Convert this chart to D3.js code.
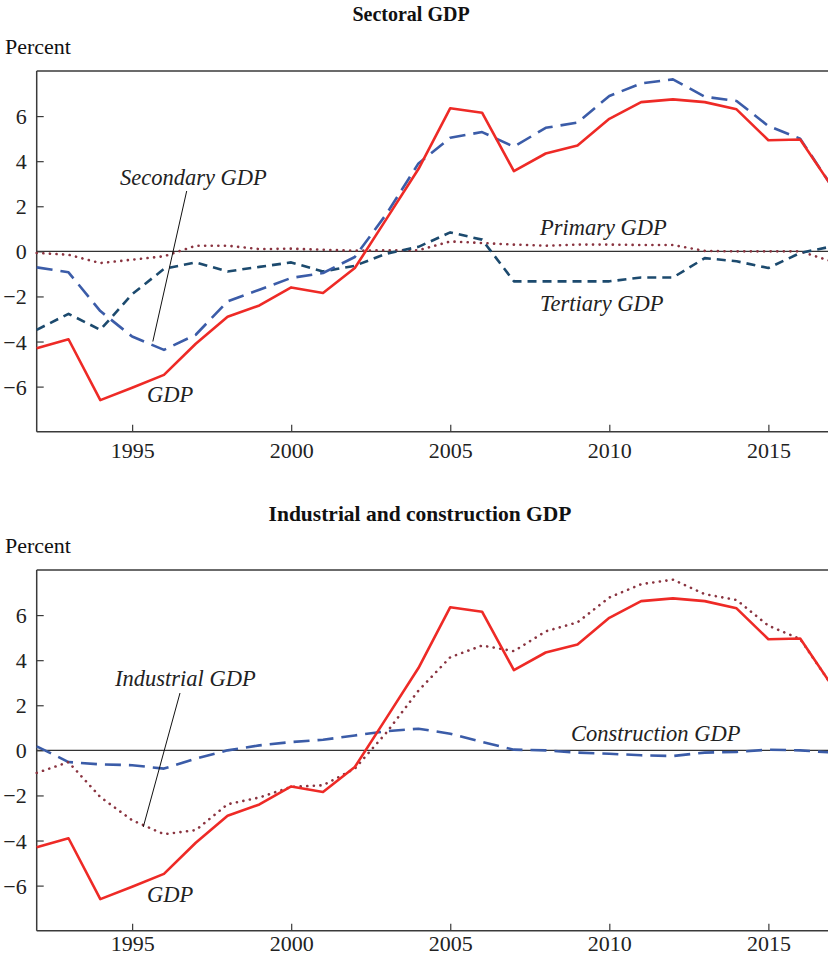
<!DOCTYPE html>
<html><head><meta charset="utf-8">
<script src="https://cdn.jsdelivr.net/npm/d3@7"></script>
<style>
html,body{margin:0;padding:0;background:#fff;}
svg{display:block;font-family:"Liberation Serif","Times New Roman",serif;}
</style></head>
<body>
<svg id="c" width="828" height="962"></svg>
<script>
const years = d3.range(1992, 2018);
const gdp = [-4.3,-3.9,-6.6,-6.05,-5.48,-4.1,-2.9,-2.4,-1.6,-1.85,-0.74,1.45,3.65,6.35,6.15,3.56,4.34,4.7,5.88,6.62,6.74,6.62,6.3,4.93,4.96,2.87];
const secondary = [-0.71,-0.93,-2.65,-3.78,-4.37,-3.7,-2.22,-1.7,-1.18,-0.96,-0.25,1.67,3.9,5.04,5.29,4.64,5.48,5.71,6.89,7.45,7.63,6.86,6.67,5.56,5.0,2.87];
const primary = [-0.07,-0.15,-0.52,-0.37,-0.22,0.25,0.25,0.1,0.12,0.07,0.03,0.05,0.05,0.44,0.37,0.3,0.25,0.3,0.3,0.28,0.28,0.02,0.0,0.0,0.0,-0.45];
const tertiary = [-3.48,-2.77,-3.48,-1.9,-0.78,-0.49,-0.89,-0.69,-0.49,-0.89,-0.64,-0.1,0.2,0.84,0.52,-1.33,-1.33,-1.33,-1.33,-1.16,-1.16,-0.3,-0.44,-0.74,-0.07,0.22];
const industrial = [-1.0,-0.52,-2.07,-3.1,-3.72,-3.54,-2.39,-2.09,-1.62,-1.55,-0.81,0.8,2.65,4.13,4.65,4.4,5.28,5.68,6.78,7.37,7.57,6.93,6.67,5.53,4.94,2.87];
const construction = [0.18,-0.52,-0.62,-0.66,-0.81,-0.37,0.0,0.22,0.37,0.47,0.66,0.85,0.96,0.74,0.37,0.03,0.0,-0.1,-0.15,-0.22,-0.25,-0.1,-0.07,0.03,0.0,-0.1];
const yTicks = [-6,-4,-2,0,2,4,6];
const xTicks = [1995,2000,2005,2010,2015];

const svg = d3.select("#c");
const RED="#ee2a26", BLUE="#3b5ca8", TEAL="#1c4a6e", MAROON="#8a3440", AX="#3a3a3a";

function panel(top, title, titleX, titleY, titleSize, xPad, series, labels){
  const left=36.7, right=832, bottom=top+360.7;
  const x=d3.scaleLinear().domain([1992,2017]).range([left,right]);
  const y=d3.scaleLinear().domain([-8,8]).range([bottom,top]);
  const g=svg.append("g");
  g.append("text").attr("x",titleX).attr("y",titleY).attr("text-anchor","middle")
    .attr("font-weight","bold").attr("font-size",titleSize).attr("fill","#111").text(title);
  g.append("text").attr("x",5).attr("y",top-17).attr("font-size",22).attr("fill","#111").text("Percent");
  g.append("line").attr("x1",left).attr("x2",828).attr("y1",y(0)).attr("y2",y(0)).attr("stroke","#333").attr("stroke-width",1.2);
  g.append("line").attr("x1",left).attr("x2",828).attr("y1",top).attr("y2",top).attr("stroke",AX).attr("stroke-width",1.5);
  const ya=d3.axisLeft(y).tickValues(yTicks).tickSize(-7).tickPadding(10)
    .tickFormat(d=>d<0?"\u2212"+Math.abs(d):d);
  const ga=g.append("g").attr("transform",`translate(${left},0)`).call(ya);
  ga.select(".domain").attr("stroke",AX).attr("stroke-width",1.5).attr("d",`M0,${top}V${bottom}`);
  ga.selectAll(".tick line").attr("stroke",AX).attr("stroke-width",1.2);
  ga.selectAll("text").attr("font-size",22).attr("fill","#222").attr("font-family","Liberation Serif, serif").attr("dy","0.34em");
  const xa=d3.axisBottom(x).tickValues(xTicks).tickSize(-7).tickPadding(xPad).tickFormat(d3.format("d"));
  const gx=g.append("g").attr("transform",`translate(0,${bottom})`).call(xa);
  gx.select(".domain").attr("stroke",AX).attr("stroke-width",1.5).attr("d",`M${left},0H828`);
  gx.selectAll(".tick line").attr("stroke",AX).attr("stroke-width",1.2);
  gx.selectAll("text").attr("font-size",22).attr("fill","#222").attr("font-family","Liberation Serif, serif");
  const line=d3.line().x((d,i)=>x(years[i])).y(d=>y(d));
  series.forEach(s=>{
    g.append("path").attr("d",line(s.data)).attr("fill","none").attr("stroke",s.color)
      .attr("stroke-width",s.w).attr("stroke-dasharray",s.dash||null)
      .attr("stroke-linecap",s.cap||"butt").attr("stroke-linejoin","round");
  });
  labels.forEach(l=>{
    g.append("text").attr("x",l.x).attr("y",top+l.dy).attr("font-style","italic").attr("font-size",22.5).attr("fill","#222").text(l.t);
    if(l.lead){
      g.append("line").attr("x1",l.lead[0]).attr("y1",top+l.lead[1]).attr("x2",x(l.lead[2])).attr("y2",y(l.lead[3]))
        .attr("stroke","#111").attr("stroke-width",1);
    }
  });
}

panel(71,"Sectoral GDP",411,21,20,11,[
  {data:primary,color:MAROON,w:2.6,dash:"0.1,6.5",cap:"round"},
  {data:tertiary,color:TEAL,w:2.6,dash:"9,6"},
  {data:secondary,color:BLUE,w:2.6,dash:"16,8"},
  {data:gdp,color:RED,w:2.6}
],[
  {t:"Secondary GDP",x:120,dy:114,lead:[186.7,120,1995.65,-4.0]},
  {t:"GDP",x:147,dy:331},
  {t:"Primary GDP",x:540,dy:164},
  {t:"Tertiary GDP",x:540,dy:240}
]);

panel(570,"Industrial and construction GDP",420,521,21.5,5,[
  {data:construction,color:BLUE,w:2.6,dash:"16,8"},
  {data:industrial,color:MAROON,w:2.6,dash:"0.1,6.5",cap:"round"},
  {data:gdp,color:RED,w:2.6}
],[
  {t:"Industrial GDP",x:115,dy:116,lead:[180,123,1995.35,-3.4]},
  {t:"GDP",x:147,dy:332},
  {t:"Construction GDP",x:571,dy:171}
]);
</script>
</body></html>
